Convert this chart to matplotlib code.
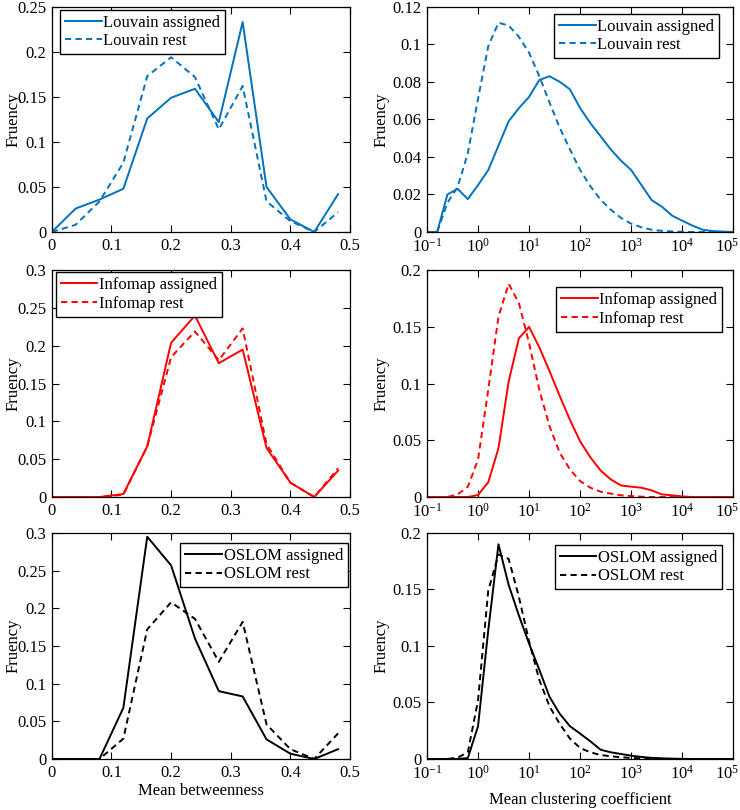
import numpy as np
import matplotlib
matplotlib.use("Agg")
from matplotlib import pyplot as plt
from matplotlib.ticker import FormatStrFormatter, LogLocator, NullLocator
from matplotlib.transforms import ScaledTranslation

plt.rcParams["font.family"] = ["Liberation Serif", "DejaVu Serif"]
plt.rcParams["mathtext.fontset"] = "stix"
plt.rcParams["font.size"] = 12

# BINS
btw_bins = [0.00, 0.04, 0.08, 0.12, 0.16, 0.20, 0.24, 0.28, 0.32, 0.36, 0.40, 0.44, 0.48]
clu_exp = [-1.0, -0.8, -0.6, -0.4, -0.2, 0.0, 0.2, 0.4, 0.6, 0.8, 1.0,
           1.2, 1.4, 1.6, 1.8, 2.0, 2.2, 2.4, 2.6, 2.8, 3.0,
           3.2, 3.4, 3.6, 3.8, 4.0, 4.2, 4.4, 4.6, 4.8, 5.0]

# MEAN BETWEENNESS
louv_btw_assigned = [0, 0.026, 0.036, 0.048, 0.126, 0.149, 0.159, 0.122, 0.233, 0.050, 0.014, 0, 0.042]
louv_btw_rest = [0, 0.008, 0.034, 0.077, 0.173, 0.194, 0.172, 0.114, 0.162, 0.034, 0.012, 0, 0.022]
info_btw_assigned = [0, 0, 0, 0.004, 0.067, 0.204, 0.240, 0.177, 0.195, 0.065, 0.019, 0, 0.035]
info_btw_rest = [0, 0, 0, 0.003, 0.067, 0.185, 0.219, 0.181, 0.223, 0.070, 0.019, 0, 0.038]
osl_btw_assigned = [0, 0, 0, 0.068, 0.295, 0.257, 0.160, 0.090, 0.083, 0.026, 0.007, 0, 0.013]
osl_btw_rest = [0, 0, 0, 0.027, 0.172, 0.208, 0.186, 0.129, 0.182, 0.046, 0.013, 0, 0.034]

# MEAN CLUSTERING COEFFICIENT
louv_clu_assigned = [0, 0, 0.020, 0.023, 0.0175, 0.025, 0.033, 0.046, 0.059, 0.066, 0.072,
                     0.081, 0.083, 0.080, 0.076, 0.066, 0.058, 0.051, 0.044, 0.038, 0.033,
                     0.025, 0.017, 0.0135, 0.0087, 0.006, 0.0034, 0.0012, 0.0005, 0.0002, 0]
louv_clu_rest = [0, 0, 0.0155, 0.024, 0.042, 0.071, 0.099, 0.1115, 0.110, 0.104, 0.0955,
                 0.083, 0.069, 0.0555, 0.044, 0.033, 0.0244, 0.0172, 0.0119, 0.0075, 0.0044,
                 0.0025, 0.0012, 0.0006, 0.0003, 0.0001, 0, 0, 0, 0, 0]
info_clu_assigned = [0, 0, 0, 0, 0, 0.0018, 0.013, 0.043, 0.102, 0.140, 0.150,
                     0.132, 0.111, 0.089, 0.068, 0.049, 0.035, 0.0234, 0.0155, 0.0102, 0.0091,
                     0.0082, 0.0059, 0.0023, 0.0015, 0.0005, 0, 0, 0, 0, 0]
info_clu_rest = [0, 0, 0, 0.0023, 0.009, 0.033, 0.0946, 0.159, 0.188, 0.171, 0.1356,
                 0.0946, 0.0624, 0.039, 0.0243, 0.014, 0.0082, 0.0047, 0.003, 0.0015, 0.0008,
                 0.0003, 0, 0, 0, 0, 0, 0, 0, 0, 0]
osl_clu_assigned = [0, 0, 0, 0, 0.0008, 0.029, 0.114, 0.190, 0.154, 0.127, 0.102,
                    0.079, 0.055, 0.040, 0.029, 0.0224, 0.0156, 0.0082, 0.0059, 0.0044, 0.0029,
                    0.0018, 0.001, 0.0006, 0.0003, 0.0001, 0, 0, 0, 0, 0]
osl_clu_rest = [0, 0, 0, 0.0012, 0.0059, 0.052, 0.149, 0.181, 0.177, 0.1435, 0.104,
                0.070, 0.0465, 0.031, 0.018, 0.0097, 0.0059, 0.0035, 0.0024, 0.0015, 0.0009,
                0.0005, 0.0002, 0, 0, 0, 0, 0, 0, 0, 0]

names = ["Louvain", "Infomap", "OSLOM"]
colors = ["#0072BD", "#FF0000", "#000000"]
btw_data = [(louv_btw_assigned, louv_btw_rest), (info_btw_assigned, info_btw_rest),
            (osl_btw_assigned, osl_btw_rest)]
clu_data = [(louv_clu_assigned, louv_clu_rest), (info_clu_assigned, info_clu_rest),
            (osl_clu_assigned, osl_clu_rest)]
btw_ymax = [0.25, 0.3, 0.3]
clu_ymax = [0.12, 0.2, 0.2]
clu_ystep = [0.02, 0.05, 0.05]

# LEGEND ANCHORS (AXES COORDS)
btw_leg = [("upper left", (0.027, 0.987)), ("upper left", (0.013, 0.991)), ("upper right", (0.993, 0.956))]
clu_leg = [("upper right", (0.954, 0.969)), ("upper right", (0.964, 0.925)), ("upper right", (0.964, 0.947))]

clu_x = 10 ** np.array(clu_exp)

fig = plt.figure(figsize=(7.4, 8.1), dpi=100)
rows_y = [(0.7136, 0.278), (0.3864, 0.280), (0.063, 0.279)]
log_axes = []


def style_axes(ax):
    ax.tick_params(direction="in", top=True, right=True, length=5, width=0.8,
                   labelsize=12, pad=4)
    for s in ax.spines.values():
        s.set_linewidth(0.9)


def add_legend(ax, name, loc, anchor):
    leg = ax.legend([name + " assigned", name + " rest"], loc=loc, bbox_to_anchor=anchor,
                    borderaxespad=0, fancybox=False, edgecolor="black", framealpha=1,
                    handlelength=2.2, handletextpad=0.1, borderpad=0.3, labelspacing=0.15,
                    fontsize=12)
    leg.get_frame().set_linewidth(1.0)


for i in range(3):
    by, bh = rows_y[i]

    # LEFT: MEAN BETWEENNESS
    ax = fig.add_axes([0.070, by, 0.403, bh])
    a, r = btw_data[i]
    ax.plot(btw_bins, a, color=colors[i], lw=1.4)
    ax.plot(btw_bins, r, color=colors[i], lw=1.4, ls=(0, (3.2, 2.2)))
    ax.set_xlim(0, 0.5)
    ax.set_ylim(0, btw_ymax[i])
    ax.set_xticks(np.arange(0, 0.51, 0.1))
    ax.set_yticks(np.arange(0, btw_ymax[i] + 1e-9, 0.05))
    ax.xaxis.set_major_formatter(FormatStrFormatter("%g"))
    ax.yaxis.set_major_formatter(FormatStrFormatter("%g"))
    ax.set_ylabel("Fruency", fontsize=12)
    ax.yaxis.set_label_coords(-0.103, 0.5)
    style_axes(ax)
    add_legend(ax, names[i], *btw_leg[i])
    if i == 2:
        ax.set_xlabel("Mean betweenness", fontsize=12, labelpad=2)

    # RIGHT: MEAN CLUSTERING COEFFICIENT
    ax = fig.add_axes([0.577, by, 0.414, bh])
    a, r = clu_data[i]
    ax.plot(clu_x, a, color=colors[i], lw=1.4)
    ax.plot(clu_x, r, color=colors[i], lw=1.4, ls=(0, (3.2, 2.2)))
    ax.set_xscale("log")
    ax.set_xlim(1e-1, 1e5)
    ax.set_ylim(0, clu_ymax[i])
    ax.xaxis.set_major_locator(LogLocator(base=10, numticks=10))
    ax.xaxis.set_minor_locator(NullLocator())
    ax.set_yticks(np.arange(0, clu_ymax[i] + 1e-9, clu_ystep[i]))
    ax.yaxis.set_major_formatter(FormatStrFormatter("%g"))
    ax.set_ylabel("Fruency", fontsize=12)
    ax.yaxis.set_label_coords(-0.122, 0.5)
    style_axes(ax)
    add_legend(ax, names[i], *clu_leg[i])
    log_axes.append(ax)
    if i == 2:
        ax.set_xlabel("Mean clustering coefficient", fontsize=12, labelpad=7)

# NUDGE LAST LOG TICK LABEL SO IT STAYS INSIDE THE FIGURE
fig.canvas.draw()
for ax in log_axes:
    lab = ax.xaxis.get_major_ticks()[-1].label1
    for t in ax.xaxis.get_major_ticks():
        if abs(t.get_loc() - 1e5) < 1:
            lab = t.label1
    lab.set_transform(lab.get_transform() + ScaledTranslation(-6 / 100, 0, fig.dpi_scale_trans))

plt.savefig("out.png", dpi=100)
